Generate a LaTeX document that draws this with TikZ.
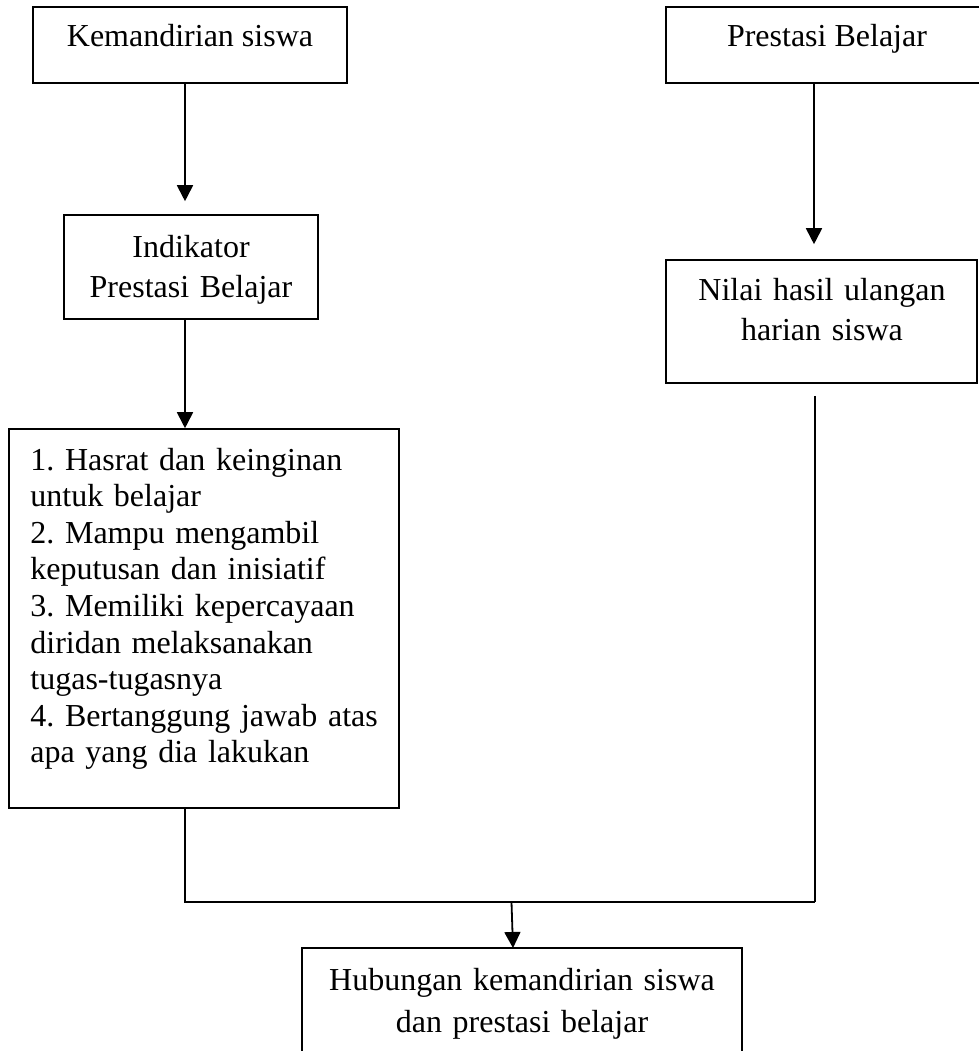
\documentclass[tikz,border=0pt]{standalone}
\usepackage{fontspec}
\setmainfont{Liberation Serif}
\usetikzlibrary{arrows.meta}
\frenchspacing
\begin{document}
\begin{tikzpicture}[x=0.5pt,y=-0.5pt,
  box/.style={draw,line width=0.8pt,inner sep=0pt,minimum width=#1},
  txt/.style={inner sep=0pt,font=\fontsize{16}{20}\selectfont},
  arr/.style={line width=0.9pt,-{Triangle[length=8pt,width=8pt]}},
  conn/.style={line width=0.9pt}]
\useasboundingbox (0,0) rectangle (979,1051);
\coordinate (cl) at (185,0);
\coordinate (cr) at (814,0);
% boxes
\node[box=157pt,minimum height=38pt] (k) at (190,45) {};
\node[box=159pt,minimum height=38pt] (p) at (825,45) {};
\node[box=127pt,minimum height=52pt] (ind) at (191,267) {};
\node[box=155.5pt,minimum height=61.5pt] (nil) at (821.5,321.5) {};
\node[box=195pt,minimum height=189.5pt] (list) at (204,618.5) {};
\node[box=220pt,minimum height=66pt] (hub) at (522,1014) {};
% texts
\node[txt,anchor=base] (tk) at (190,46) {Kemandirian siswa};
\node[txt,anchor=base] (tp) at (827,46) {Prestasi Belajar};
\node[txt,anchor=base,text width=120pt,align=center,font=\fontsize{16}{20}\selectfont] (tind) at (191,257) {Indikator\\Prestasi Belajar};
\node[txt,anchor=base,text width=150pt,align=center,font=\fontsize{16}{20}\selectfont] (tnil) at (822,300) {Nilai hasil ulangan\\harian siswa};
\node[txt,anchor=base west,text width=185pt,align=left,font=\fontsize{16}{18.3}\selectfont] (tlist) at (30,470) {1. Hasrat dan keinginan\\untuk belajar\\2. Mampu mengambil\\keputusan dan inisiatif\\3. Memiliki kepercayaan\\diridan melaksanakan\\tugas-tugasnya\\4. Bertanggung jawab atas\\apa yang dia lakukan};
\node[txt,anchor=base,text width=215pt,align=center,font=\fontsize{16}{21}\selectfont] (thub) at (522,990) {Hubungan kemandirian siswa\\dan prestasi belajar};
% connectors
\draw[arr,shorten >=6.5pt] (k.south -| cl) -- (ind.north -| cl);
\draw[arr,shorten >=7.5pt] (p.south -| cr) -- (nil.north -| cr);
\draw[arr] (ind.south -| cl) -- (list.north -| cl);
\coordinate (jl) at (185,902);
\coordinate (jr) at (815,902);
\coordinate (jm) at (511.5,902);
\coordinate (hubin) at (513,948);
\draw[conn] (list.south -| cl) -- (jl) -- (jr);
\draw[conn,shorten <=6pt] (nil.south -| jr) -- (jr);
\draw[arr] (jm) -- (hubin);
\end{tikzpicture}
\end{document}
